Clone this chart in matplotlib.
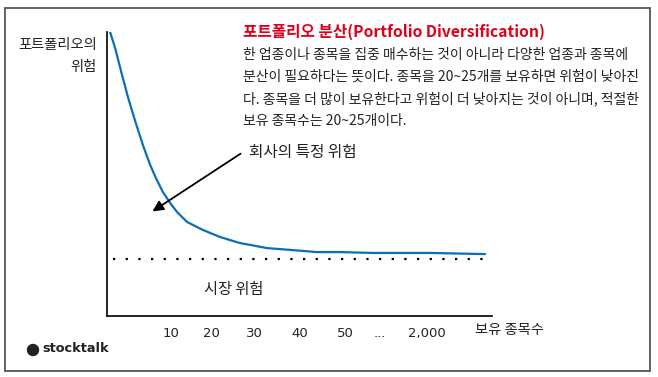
import matplotlib.pyplot as plt
from matplotlib.patches import Rectangle, Ellipse

plt.rcParams['font.family'] = ['Noto Sans CJK KR', 'DejaVu Sans']

# ----------------------------
# Datos (unidades relativas 0-100)
# ----------------------------
curve_x = [0.8, 2.1, 3.9, 5.5, 7.3, 9.4, 11.2, 12.7, 14.5, 16.4, 18.2, 20.8, 24.9,
           29.4, 34.5, 41.6, 48.3, 54.5, 60.5, 69.1, 83.9, 98.2]
curve_y = [100, 94.4, 84.9, 76.8, 68.7, 59.9, 53.2, 48.6, 43.7, 39.8, 36.6, 33.1, 30.3,
           27.8, 25.7, 23.9, 23.2, 22.5, 22.5, 22.2, 22.2, 21.8]

market_x = [1.6, 98.7]
market_risk = 20.2

tick_pos = [16.6, 27.0, 38.4, 50.1, 61.8, 70.9, 83.1]
tick_labels = ["10", "20", "30", "40", "50", "...", "2,000"]

title = "포트폴리오 분산(Portfolio Diversification)"
body = ["한 업종이나 종목을 집중 매수하는 것이 아니라 다양한 업종과 종목에",
        "분산이 필요하다는 뜻이다. 종목을 20~25개를 보유하면 위험이 낮아진",
        "다. 종목을 더 많이 보유한다고 위험이 더 낮아지는 것이 아니며, 적절한",
        "보유 종목수는 20~25개이다."]

fig = plt.figure(figsize=(6.58, 3.77), dpi=100)
fig.patches.append(Rectangle((5 / 658, 6 / 377), 645 / 658, 363 / 377,
                             transform=fig.transFigure, fill=False,
                             edgecolor="#555555", linewidth=1.3))

ax = fig.add_axes([107 / 658, 61 / 377, 385 / 658, 284 / 377])
ax.set_xlim(0, 100)
ax.set_ylim(0, 100)
for s in ["top", "right"]:
    ax.spines[s].set_visible(False)
for s in ["left", "bottom"]:
    ax.spines[s].set_linewidth(1.2)
ax.set_yticks([])
ax.set_xticks(tick_pos)
ax.set_xticklabels(tick_labels, fontsize=9.5, color="#222222", family=["DejaVu Sans"])
ax.tick_params(axis="x", length=0, pad=8)

ax.plot(curve_x, curve_y, color="#0a6fb5", linewidth=1.6,
        solid_joinstyle="round", solid_capstyle="round")
ax.plot(market_x, [market_risk, market_risk], color="black",
        linewidth=1.6, linestyle=(0, (1, 4.7)))

ax.annotate("", xy=(11.2, 36.3), xytext=(35.3, 57.7),
            arrowprops=dict(arrowstyle="-|>", color="black", lw=1.3,
                            mutation_scale=16))
ax.text(37.0, 57.7, "회사의 특정 위험", fontsize=11.3, va="center", color="#222222")
ax.text(33.0, 9.5, "시장 위험", fontsize=11, va="center", ha="center", color="#222222")
ax.text(104.5, -5.0, "보유 종목수", fontsize=10.3, va="center", ha="center",
        color="#222222", clip_on=False)

# Textos de figura
fig.text(97 / 658, 1 - 45 / 377, "포트폴리오의", ha="right", va="center", fontsize=10.3, color="#222222")
fig.text(97 / 658, 1 - 67 / 377, "위험", ha="right", va="center", fontsize=10.3, color="#222222")

fig.text(243 / 658, 1 - 32 / 377, title, ha="left", va="center", fontsize=11.3,
         fontweight="bold", color="#e0001b")
for i, line in enumerate(body):
    fig.text(243 / 658, 1 - (55 + 22 * i) / 377, line, ha="left", va="center",
             fontsize=10, color="#222222")

# Logo
fig.patches.append(Ellipse((33 / 658, 1 - 350 / 377), 11 / 658, 11 / 377,
                           transform=fig.transFigure, color="#222222"))
fig.text(42 / 658, 1 - 349 / 377, "stocktalk", ha="left", va="center", fontsize=9.3,
         fontweight="bold", color="#222222", family=["DejaVu Sans"])

fig.savefig("out.png", dpi=100)
